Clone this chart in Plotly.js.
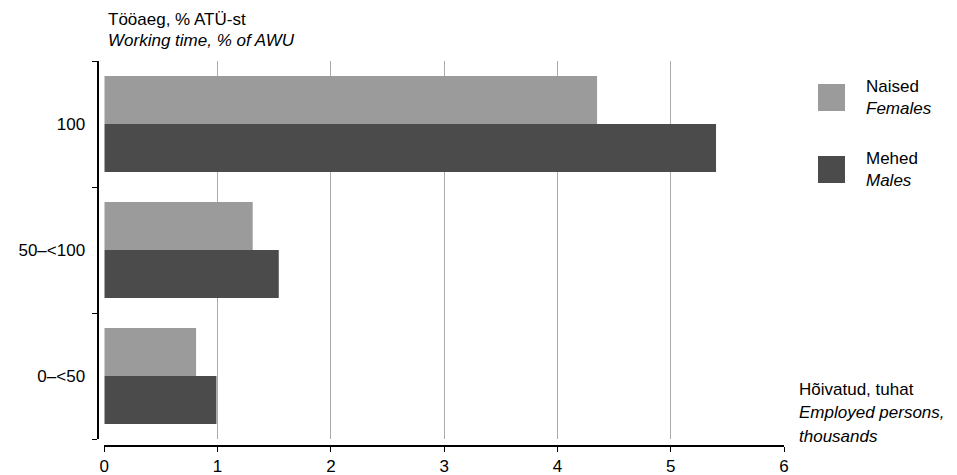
<!DOCTYPE html>
<html>
<head>
<meta charset="utf-8">
<script src="https://cdn.plot.ly/plotly-3.0.1.min.js"></script>
<style>html,body{margin:0;padding:0;background:#fff;}#chart{width:957px;height:475px;}</style>
</head>
<body>
<div id="chart"></div>
<script>
const categories = ["0–<50", "50–<100", "100"];
const females = [0.81, 1.31, 4.35];
const males = [0.99, 1.54, 5.40];
const xTicks = [0, 1, 2, 3, 4, 5, 6];
const yTitleLines = ["Tööaeg, % ATÜ-st", "<i>Working time, % of AWU</i>"];
const xTitleLines = ["Hõivatud, tuhat", "<i>Employed persons,</i>", "<i>thousands</i>"];
const femaleName = "Naised<br><i>Females</i>";
const maleName = "Mehed<br><i>Males</i>";
const colFemale = "#9b9b9b";
const colMale = "#4b4b4b";

const W = 957, H = 475;
const px = v => v / W;
const py = v => 1 - v / H;
const FONT = "Liberation Sans, Arial, Helvetica, sans-serif";
const FS = 17;

const traces = [
  {type: "bar", orientation: "h", y: categories, x: males, name: "Mehed",
   marker: {color: colMale}, showlegend: false, hoverinfo: "none"},
  {type: "bar", orientation: "h", y: categories, x: females, name: "Naised",
   marker: {color: colFemale}, showlegend: false, hoverinfo: "none"}
];

const ann = (x, y, text, anchor) => ({xref: "paper", yref: "paper", x: px(x), y: py(y),
  xanchor: "left", yanchor: anchor || "middle", text: text, showarrow: false, align: "left",
  font: {size: FS}});

const annotations = [];
[19, 40].forEach((y, i) => annotations.push(ann(106, y, yTitleLines[i])));
[389, 412, 436].forEach((y, i) => annotations.push(ann(797, y, xTitleLines[i])));
annotations.push(ann(864, 97, femaleName));
annotations.push(ann(864, 169, maleName));

const layout = {
  width: W, height: H,
  margin: {l: 0, r: 0, t: 0, b: 0},
  paper_bgcolor: "#fff", plot_bgcolor: "#fff",
  font: {family: FONT, size: FS, color: "#000"},
  barmode: "group", bargap: 0.238, bargroupgap: 0,
  xaxis: {
    domain: [px(104.3), px(784)], range: [0, 6], anchor: "free", position: py(446),
    tickvals: xTicks, ticktext: xTicks.map(String),
    showgrid: true, gridcolor: "#ababab", gridwidth: 1,
    showline: true, linecolor: "#000", linewidth: 2,
    ticks: "outside", ticklen: 5, tickwidth: 1, tickcolor: "#000",
    zeroline: false, fixedrange: true
  },
  yaxis: {
    domain: [py(439), py(61)], range: [-0.5, 2.5], anchor: "free", position: px(97.5),
    type: "category", categoryorder: "array", categoryarray: categories,
    tickson: "boundaries", ticks: "outside", ticklen: 5, tickwidth: 1, tickcolor: "#000",
    showline: true, linecolor: "#000", linewidth: 2,
    showgrid: false, zeroline: false, fixedrange: true, ticklabelstandoff: 8
  },
  shapes: [
    {type: "rect", xref: "paper", yref: "paper", x0: px(818), x1: px(845), y0: py(111), y1: py(84),
     fillcolor: colFemale, line: {width: 0}},
    {type: "rect", xref: "paper", yref: "paper", x0: px(818), x1: px(845), y0: py(183), y1: py(156),
     fillcolor: colMale, line: {width: 0}}
  ],
  annotations: annotations
};

Plotly.newPlot("chart", traces, layout, {displayModeBar: false, staticPlot: true});
</script>
</body>
</html>
